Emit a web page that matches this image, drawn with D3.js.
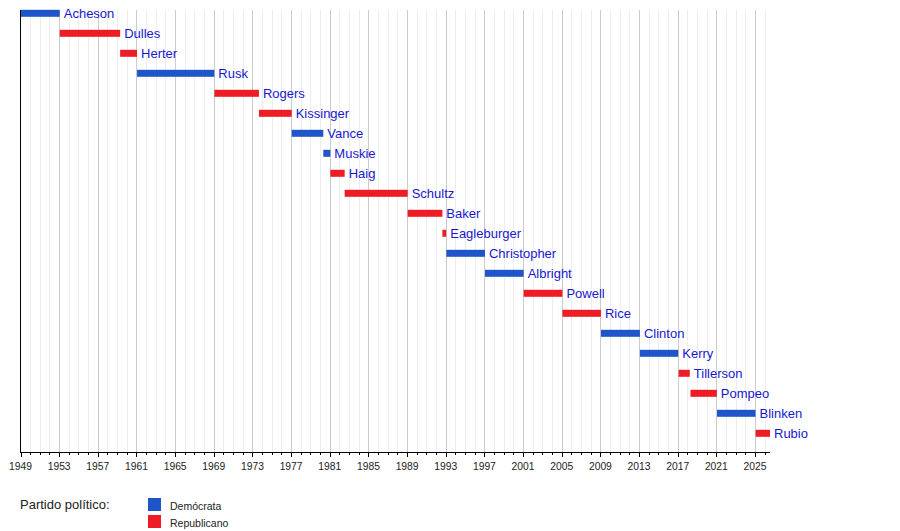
<!DOCTYPE html>
<html>
<head>
<meta charset="utf-8">
<script src="https://cdn.jsdelivr.net/npm/d3@7"></script>
<style>
  body { margin: 0; background: #fff; }
  svg { display: block; font-family: "Liberation Sans", Arial, Helvetica, sans-serif; }
</style>
</head>
<body>
<svg id="chart" width="900" height="531"></svg>
<script>
// ---- Data ----
const names = ["Acheson","Dulles","Herter","Rusk","Rogers","Kissinger","Vance","Muskie","Haig","Schultz","Baker","Eagleburger","Christopher","Albright","Powell","Rice","Clinton","Kerry","Tillerson","Pompeo","Blinken","Rubio"];
const starts = [1949.0,1953.06,1959.31,1961.06,1969.06,1973.67,1977.06,1980.33,1981.06,1982.54,1989.06,1992.65,1993.06,1997.06,2001.06,2005.07,2009.06,2013.09,2017.09,2018.32,2021.07,2025.06];
const ends   = [1953.06,1959.31,1961.06,1969.06,1973.67,1977.06,1980.33,1981.06,1982.54,1989.06,1992.65,1993.05,1997.06,2001.06,2005.07,2009.06,2013.09,2017.06,2018.25,2021.05,2025.05,2026.55];
const parties = ["D","R","R","D","R","R","D","D","R","R","R","R","D","D","R","R","D","D","R","R","D","R"];
const tickYears = [1949,1953,1957,1961,1965,1969,1973,1977,1981,1985,1989,1993,1997,2001,2005,2009,2013,2017,2021,2025];
const legendLabels = ["Demócrata","Republicano"];
const partyKeys = ["D","R"];
const domainStart = 1949, domainEnd = 2026.55;

const colors = { D: "#1e55c8", R: "#ee1c25" };
const textColor = "#1717cf";

const svg = d3.select("#chart");
const x = d3.scaleLinear().domain([domainStart, domainEnd]).range([20.5, 770]);
const y = d3.scalePoint().domain(names).range([13.3, 13.3 + 20 * (names.length - 1)]);
const plotTop = 10, plotBottom = 452.5;

// gridlines
const minorYears = d3.range(1950, 2027);
svg.append("g").selectAll("line").data(minorYears.filter(v => (v - 1949) % 4 !== 0)).join("line")
  .attr("x1", d => Math.round(x(d)) + 0.5).attr("x2", d => Math.round(x(d)) + 0.5)
  .attr("y1", plotTop).attr("y2", plotBottom).attr("stroke", "#ededed").attr("stroke-width", 1);
svg.append("g").selectAll("line").data(tickYears.slice(1)).join("line")
  .attr("x1", d => Math.round(x(d)) + 0.5).attr("x2", d => Math.round(x(d)) + 0.5)
  .attr("y1", plotTop).attr("y2", plotBottom).attr("stroke", "#cccccc").attr("stroke-width", 1);

// bars
const rows = names.map((n, i) => ({ name: n, s: starts[i], e: ends[i], p: parties[i] }));
const bh = 7;
svg.append("g").selectAll("rect").data(rows).join("rect")
  .attr("x", d => Math.max(20, x(d.s))).attr("width", d => Math.max(1, x(d.e) - Math.max(20, x(d.s))))
  .attr("y", d => y(d.name) - bh / 2).attr("height", bh)
  .attr("fill", d => colors[d.p]);

svg.append("g").selectAll("text").data(rows).join("text")
  .attr("x", d => x(d.e) + 4).attr("y", d => y(d.name)).attr("dy", "0.35em")
  .attr("font-size", 13).attr("fill", textColor).text(d => d.name);

// axes
svg.append("line").attr("x1", 20.5).attr("x2", 20.5).attr("y1", plotTop).attr("y2", plotBottom)
  .attr("stroke", "#000").attr("stroke-width", 1);
const axisG = svg.append("g").attr("transform", `translate(0,${plotBottom})`);
axisG.append("line").attr("x1", 20).attr("x2", 770).attr("y1", 0).attr("y2", 0).attr("stroke", "#000");
axisG.selectAll("line.minor").data(minorYears.filter(v => (v - 1949) % 4 !== 0)).join("line")
  .attr("class", "minor")
  .attr("x1", d => Math.round(x(d)) + 0.5).attr("x2", d => Math.round(x(d)) + 0.5)
  .attr("y1", 0).attr("y2", 2.5).attr("stroke", "#000");
axisG.selectAll("line.major").data(tickYears).join("line")
  .attr("class", "major")
  .attr("x1", d => Math.round(x(d)) + 0.5).attr("x2", d => Math.round(x(d)) + 0.5)
  .attr("y1", 0).attr("y2", 4.5).attr("stroke", "#000");
axisG.selectAll("text").data(tickYears).join("text")
  .attr("x", d => x(d)).attr("y", 17.5).attr("text-anchor", "middle")
  .attr("font-size", 10.3).attr("fill", "#222").text(d => d);

// legend
svg.append("text").attr("x", 20).attr("y", 509).attr("font-size", 13).attr("fill", "#222").text("Partido político:");
const lg = svg.append("g").selectAll("g").data(partyKeys).join("g")
  .attr("transform", (d, i) => `translate(148,${498 + i * 17})`);
lg.append("rect").attr("width", 13).attr("height", 13).attr("fill", d => colors[d]);
lg.append("text").attr("x", 22).attr("y", 11.5).attr("font-size", 10.5).attr("fill", "#222")
  .text((d, i) => legendLabels[i]);
</script>
</body>
</html>
